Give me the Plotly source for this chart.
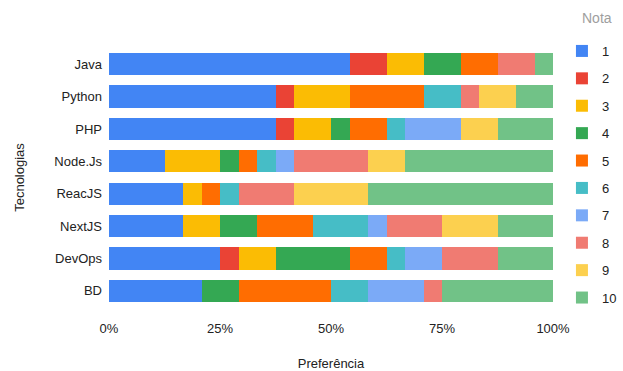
import plotly.graph_objects as go

categories = ["Java", "Python", "PHP", "Node.Js", "ReacJS", "NextJS", "DevOps", "BD"]
notas = ["1", "2", "3", "4", "5", "6", "7", "8", "9", "10"]
# counts per nota (rows) for each technology (columns)
nota_1 = [13, 9, 9, 3, 4, 4, 6, 5]
nota_2 = [2, 1, 1, 0, 0, 0, 1, 0]
nota_3 = [2, 3, 2, 3, 1, 2, 2, 0]
nota_4 = [2, 0, 1, 1, 0, 2, 4, 2]
nota_5 = [2, 4, 2, 1, 1, 3, 2, 5]
nota_6 = [0, 2, 1, 1, 1, 3, 1, 2]
nota_7 = [0, 0, 3, 1, 0, 1, 2, 3]
nota_8 = [2, 1, 0, 4, 3, 3, 3, 1]
nota_9 = [0, 2, 2, 2, 4, 3, 0, 0]
nota_10 = [1, 2, 3, 8, 10, 3, 3, 6]
series = [nota_1, nota_2, nota_3, nota_4, nota_5, nota_6, nota_7, nota_8, nota_9, nota_10]
colors = ["#4285F4", "#EA4335", "#FBBC04", "#34A853", "#FF6D01",
          "#46BDC6", "#7BAAF7", "#F07B72", "#FCD04F", "#71C287"]
tick_vals = [0, 25, 50, 75, 100]
tick_text = ["0%", "25%", "50%", "75%", "100%"]

font_family = "Liberation Sans, Arial, sans-serif"

fig = go.Figure()
for name, vals, col in zip(notas, series, colors):
    fig.add_trace(go.Bar(
        y=categories, x=vals, name=name, orientation="h",
        marker=dict(color=col, line=dict(width=0)),
        legendgroup=name,
    ))

fig.update_layout(
    barmode="stack",
    barnorm="percent",
    bargap=0.31,
    width=623, height=371,
    margin=dict(l=109, r=70, t=48, b=64, autoexpand=False),
    paper_bgcolor="white", plot_bgcolor="white",
    font=dict(family=font_family, size=13, color="#222222"),
    legend=dict(
        xref="container", yref="container",
        x=0.902, xanchor="left", y=0.903, yanchor="top",
        font=dict(size=13, color="#222222"),
        tracegroupgap=7.5,
        traceorder="grouped",
        itemclick=False,
        maxheight=365,
    ),
    annotations=[dict(
        text="Nota", xref="paper", yref="paper",
        x=(597 - 109) / 444, y=(307 - 18) / 259,
        xanchor="center", yanchor="middle", showarrow=False,
        font=dict(size=14, color="#9E9E9E"),
    )],
    xaxis=dict(
        range=[0, 100], tickmode="array", tickvals=tick_vals, ticktext=tick_text,
        showgrid=False, zeroline=False, showline=False, automargin=False,
        ticklabelstandoff=12,
        title=dict(text="Preferência", standoff=30, font=dict(size=13)),
    ),
    yaxis=dict(
        autorange="reversed", showgrid=False, zeroline=False, showline=False,
        automargin=False,
        ticklabelstandoff=6,
        title=dict(text="Tecnologias", standoff=26, font=dict(size=13)),
    ),
)

fig.write_html("out.html")
